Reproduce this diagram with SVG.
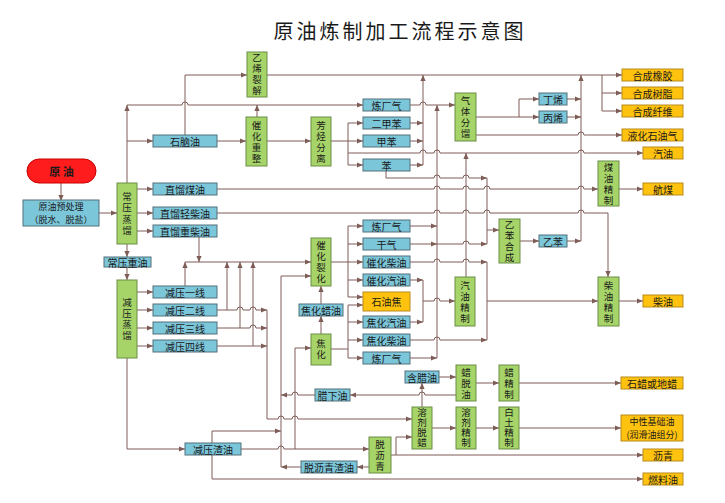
<svg xmlns="http://www.w3.org/2000/svg" width="725" height="503" viewBox="0 0 725 503">
<defs>
<marker id="a" viewBox="0 0 6 6" refX="6" refY="3" markerWidth="6" markerHeight="6" markerUnits="userSpaceOnUse" orient="auto"><path d="M0,0.4 L6,3 L0,5.6 z" fill="#7e5d57"/></marker>
<style>
.b{fill:#7cc6da;stroke:#52707a;stroke-width:1}
.g{fill:#a6d468;stroke:#6a8d47;stroke-width:1}
.o{fill:#ffc20e;stroke:#b98a1c;stroke-width:1}
.r{fill:#ff1c1c;stroke:#c80000;stroke-width:1}
text{font-family:"Noto Sans CJK SC","Noto Sans",sans-serif;font-size:10px;fill:#1a1a1a;text-anchor:middle;dominant-baseline:central}
text.s{font-size:9px}
text.v{writing-mode:vertical-rl;font-size:9.5px;letter-spacing:1.5px}
text.v2{writing-mode:vertical-rl;font-size:9.5px;letter-spacing:2px}
text.v0{writing-mode:vertical-rl;font-size:9.5px;letter-spacing:0.5px}
.c path{fill:none;stroke:#7e5d57;stroke-width:1}
.c path.e{marker-end:url(#a)}
</style>
</defs>
<rect width="725" height="503" fill="#ffffff"/>
<text x="400" y="30" style="font-size:20px;letter-spacing:3px">原油炼制加工流程示意图</text>

<g class="c">
<path class="e" d="M61,183 V201"/>
<path class="e" d="M99,213 H117"/>
<path class="e" d="M127,183 V105"/>
<path class="e" d="M127,105 H182 a3,3 0 0 1 6,0 H363"/>
<path class="e" d="M127,141 H153"/>
<path class="e" d="M185,135 V75 H247"/>
<path class="e" d="M217,141 H246"/>
<path class="e" d="M257,117 V105"/>
<path class="e" d="M267,75 H622"/>
<path class="e" d="M602,75 V111 H622"/>
<path class="e" d="M602,93 H622"/>
<path class="e" d="M267,141 H311"/>
<path class="e" d="M331,141 H363"/>
<path d="M348,123 V165"/>
<path class="e" d="M348,123 H363"/>
<path class="e" d="M348,165 H363"/>
<path class="e" d="M348,153 H420 a3,3 0 0 1 6,0 H434 a3,3 0 0 1 6,0 H578 a3,3 0 0 1 6,0 H643"/>
<path class="e" d="M410,123 H423"/>
<path class="e" d="M410,141 H423"/>
<path class="e" d="M410,165 H423"/>
<path class="e" d="M423,165 V75"/>
<path class="e" d="M410,105 H420 a3,3 0 0 1 6,0 H455"/>
<path class="e" d="M476,117 H539"/>
<path class="e" d="M519,117 V99 H539"/>
<path class="e" d="M567,99 H581"/>
<path class="e" d="M567,117 H581"/>
<path class="e" d="M581,241 V75"/>
<path class="e" d="M567,241 H581"/>
<path class="e" d="M520,241 H539"/>
<path class="e" d="M476,135 H578 a3,3 0 0 1 6,0 H622"/>
<path class="e" d="M386,171 V178 H434 a3,3 0 0 1 6,0 H463 a3,3 0 0 1 6,0 H487"/>
<path d="M487,178 V244"/>
<path class="e" d="M487,230 H499"/>
<path class="e" d="M217,189 H434 a3,3 0 0 1 6,0 H463 a3,3 0 0 1 6,0 H484 a3,3 0 0 1 6,0 H578 a3,3 0 0 1 6,0 H598"/>
<path class="e" d="M619,189 H643"/>
<path class="e" d="M217,213 H434 a3,3 0 0 1 6,0 H463 a3,3 0 0 1 6,0 H484 a3,3 0 0 1 6,0 H578 a3,3 0 0 1 6,0 H608 V277"/>
<path class="e" d="M619,301 H643"/>
<path class="e" d="M199,237 V262"/>
<path class="e" d="M185,262 H311"/>
<path class="e" d="M185,286 V262"/>
<path class="e" d="M217,310 H237 a3,3 0 0 1 6,0 H250 a3,3 0 0 1 6,0 H267"/>
<path class="e" d="M227,310 V262"/>
<path class="e" d="M217,328 H250 a3,3 0 0 1 6,0 H267"/>
<path class="e" d="M240,328 V262"/>
<path class="e" d="M217,346 H267"/>
<path class="e" d="M253,346 V262"/>
<path class="e" d="M267,310 V419 H278 a3,3 0 0 1 6,0 H292 a3,3 0 0 1 6,0 H412"/>
<path class="e" d="M137,292 H153"/>
<path class="e" d="M137,310 H153"/>
<path class="e" d="M137,328 H153"/>
<path class="e" d="M137,346 H153"/>
<path class="e" d="M137,189 H153"/>
<path class="e" d="M137,213 H153"/>
<path class="e" d="M137,231 H153"/>
<path class="e" d="M127,244 V257"/>
<path class="e" d="M127,267 V280"/>
<path class="e" d="M127,358 V449 H185"/>
<path class="e" d="M241,449 H278 a3,3 0 0 1 6,0 H369"/>
<path class="e" d="M212,443 V431 H281"/>
<path class="e" d="M212,455 V479 H643"/>
<path class="e" d="M281,467 V276 H311"/>
<path class="e" d="M295,449 V348 H311"/>
<path class="e" d="M321,334 V316"/>
<path class="e" d="M321,304 V286"/>
<path class="e" d="M331,262 H363"/>
<path d="M348,226 V297"/>
<path class="e" d="M348,226 H363"/>
<path class="e" d="M348,244 H363"/>
<path class="e" d="M348,280 H363"/>
<path class="e" d="M348,297 H363"/>
<path class="e" d="M331,349 H348 V358 H363"/>
<path d="M348,305 V349"/>
<path class="e" d="M348,305 H363"/>
<path class="e" d="M348,322 H363"/>
<path class="e" d="M348,340 H363"/>
<path class="e" d="M410,226 H437"/>
<path class="e" d="M410,244 H437"/>
<path class="e" d="M437,244 H463 a3,3 0 0 1 6,0 H487"/>
<path class="e" d="M410,262 H434 a3,3 0 0 1 6,0 H463 a3,3 0 0 1 6,0 H487"/>
<path d="M487,262 V340"/>
<path class="e" d="M487,301 H598"/>
<path class="e" d="M410,280 H423"/>
<path class="e" d="M410,322 H423"/>
<path d="M423,280 V322"/>
<path class="e" d="M423,301 H434 a3,3 0 0 1 6,0 H455"/>
<path class="e" d="M410,340 H434 a3,3 0 0 1 6,0 H487"/>
<path class="e" d="M410,358 H437"/>
<path class="e" d="M437,358 V105"/>
<path class="e" d="M466,277 V153"/>
<path class="e" d="M456,395 H425 a3,3 0 0 0 -6,0 H350"/>
<path class="e" d="M315,395 H298 a3,3 0 0 0 -6,0 H281"/>
<path class="e" d="M422,407 V383"/>
<path class="e" d="M439,377 H456"/>
<path class="e" d="M476,383 H499"/>
<path class="e" d="M519,383 H621"/>
<path class="e" d="M432,428 H456"/>
<path class="e" d="M476,428 H499"/>
<path class="e" d="M519,428 H621"/>
<path class="e" d="M391,455 H643"/>
<path class="e" d="M396,455 V437 H412"/>
<path class="e" d="M369,467 H357"/>
<path class="e" d="M301,467 H281"/>
</g>

<g id="n-yuanyou"><rect class="r" x="27" y="159" width="69" height="24" rx="12"/><text x="61.5" y="171" style="font-size:11px;font-weight:bold">原 油</text></g>
<g id="n-yuchuli"><rect class="b" x="23" y="200" width="76" height="26"/><text class="s" x="61" y="206.4">原油预处理</text><text class="s" x="61" y="219.6">（脱水、脱盐）</text></g>

<g id="n-changya"><rect class="g" x="117" y="183" width="20" height="61"/><text class="v2" x="127" y="214.5">常压蒸馏</text></g>
<g id="n-jianya"><rect class="g" x="117" y="280" width="20" height="78"/><text class="v" x="127" y="320">减压蒸馏</text></g>
<g id="n-yixi"><rect class="g" x="247" y="52" width="20" height="45"/><text class="v" x="257" y="75">乙烯裂解</text></g>
<g id="n-chonzheng"><rect class="g" x="246" y="117" width="21" height="49"/><text class="v" x="256.5" y="142.5">催化重整</text></g>
<g id="n-fangting"><rect class="g" x="311" y="117" width="20" height="49"/><text class="v" x="321" y="142.5">芳烃分离</text></g>
<g id="n-qiti"><rect class="g" x="455" y="93" width="21" height="48"/><text class="v" x="465.5" y="118">气体分馏</text></g>
<g id="n-yibenhc"><rect class="g" x="499" y="219" width="21" height="44"/><text class="v" x="509.5" y="242">乙苯合成</text></g>
<g id="n-meiyoujz"><rect class="g" x="598" y="161" width="21" height="45"/><text class="v" x="608.5" y="184.5">煤油精制</text></g>
<g id="n-chaiyoujz"><rect class="g" x="598" y="277" width="21" height="49"/><text class="v" x="608.5" y="302.5">柴油精制</text></g>
<g id="n-liehua"><rect class="g" x="311" y="238" width="20" height="48"/><text class="v" x="321" y="263">催化裂化</text></g>
<g id="n-jiaohua"><rect class="g" x="311" y="334" width="20" height="31"/><text class="v" x="321" y="350">焦化</text></g>
<g id="n-qiyoujz"><rect class="g" x="455" y="277" width="20" height="49"/><text class="v" x="465" y="302.5">汽油精制</text></g>
<g id="n-latuoyou"><rect class="g" x="456" y="365" width="20" height="36"/><text class="v" x="466" y="384">蜡脱油</text></g>
<g id="n-lajz"><rect class="g" x="499" y="365" width="20" height="36"/><text class="v" x="509" y="384">蜡精制</text></g>
<g id="n-rjtl"><rect class="g" x="412" y="407" width="20" height="42"/><text class="v0" x="422" y="428">溶剂脱蜡</text></g>
<g id="n-rjjz"><rect class="g" x="456" y="407" width="20" height="42"/><text class="v0" x="466" y="428">溶剂精制</text></g>
<g id="n-btjz"><rect class="g" x="499" y="407" width="20" height="42"/><text class="v0" x="509" y="428">白土精制</text></g>
<g id="n-tuoliqing"><rect class="g" x="369" y="437" width="22" height="36"/><text class="v" x="380" y="456">脱沥青</text></g>

<g id="n-naoyou"><rect class="b" x="153" y="135" width="64" height="12"/><text x="185" y="141">石脑油</text></g>
<g id="n-zlmy"><rect class="b" x="153" y="183" width="64" height="12"/><text x="185" y="189">直馏煤油</text></g>
<g id="n-zlqcy"><rect class="b" x="153" y="207" width="64" height="12"/><text x="185" y="213">直馏轻柴油</text></g>
<g id="n-zlzcy"><rect class="b" x="153" y="225" width="64" height="12"/><text x="185" y="231">直馏重柴油</text></g>
<g id="n-cyzy"><rect class="b" x="104" y="257" width="47" height="10"/><text x="127.5" y="262">常压重油</text></g>
<g id="n-jy1"><rect class="b" x="153" y="286" width="64" height="12"/><text x="185" y="292">减压一线</text></g>
<g id="n-jy2"><rect class="b" x="153" y="304" width="64" height="12"/><text x="185" y="310">减压二线</text></g>
<g id="n-jy3"><rect class="b" x="153" y="322" width="64" height="12"/><text x="185" y="328">减压三线</text></g>
<g id="n-jy4"><rect class="b" x="153" y="340" width="64" height="12"/><text x="185" y="346">减压四线</text></g>
<g id="n-lcq1"><rect class="b" x="363" y="99" width="47" height="12"/><text x="386.5" y="105">炼厂气</text></g>
<g id="n-erjiaben"><rect class="b" x="363" y="117" width="47" height="12"/><text x="386.5" y="123">二甲苯</text></g>
<g id="n-jiaben"><rect class="b" x="363" y="135" width="47" height="12"/><text x="386.5" y="141">甲苯</text></g>
<g id="n-ben"><rect class="b" x="363" y="159" width="47" height="12"/><text x="386.5" y="165">苯</text></g>
<g id="n-dingxi"><rect class="b" x="539" y="93" width="28" height="12"/><text x="553" y="99">丁烯</text></g>
<g id="n-bingxi"><rect class="b" x="539" y="111" width="28" height="12"/><text x="553" y="117">丙烯</text></g>
<g id="n-yiben"><rect class="b" x="539" y="235" width="28" height="12"/><text x="553" y="241">乙苯</text></g>
<g id="n-lcq2"><rect class="b" x="363" y="220" width="47" height="12"/><text x="386.5" y="226">炼厂气</text></g>
<g id="n-ganqi"><rect class="b" x="363" y="238" width="47" height="12"/><text x="386.5" y="244">干气</text></g>
<g id="n-chcy"><rect class="b" x="363" y="256" width="47" height="12"/><text x="386.5" y="262">催化柴油</text></g>
<g id="n-chqy"><rect class="b" x="363" y="274" width="47" height="12"/><text x="386.5" y="280">催化汽油</text></g>
<g id="n-jhqy"><rect class="b" x="363" y="316" width="47" height="12"/><text x="386.5" y="322">焦化汽油</text></g>
<g id="n-jhcy"><rect class="b" x="363" y="334" width="47" height="12"/><text x="386.5" y="340">焦化柴油</text></g>
<g id="n-lcq3"><rect class="b" x="363" y="352" width="47" height="12"/><text x="386.5" y="358">炼厂气</text></g>
<g id="n-jhly"><rect class="b" x="299" y="304" width="44" height="12"/><text x="321" y="310">焦化蜡油</text></g>
<g id="n-hly"><rect class="b" x="405" y="371" width="34" height="12"/><text x="422" y="377">含腊油</text></g>
<g id="n-lxy"><rect class="b" x="315" y="389" width="35" height="12"/><text x="332.5" y="395">腊下油</text></g>
<g id="n-jyzy"><rect class="b" x="185" y="443" width="56" height="12"/><text x="213" y="449">减压渣油</text></g>
<g id="n-tlqzy"><rect class="b" x="301" y="461" width="56" height="12"/><text x="329" y="467">脱沥青渣油</text></g>

<g id="n-shiyoujiao"><rect class="o" x="363" y="292" width="47" height="19"/><text x="386.5" y="301.5">石油焦</text></g>
<g id="n-hcxj"><rect class="o" x="622" y="69" width="61" height="12"/><text x="652.5" y="75">合成橡胶</text></g>
<g id="n-hcsz"><rect class="o" x="622" y="87" width="61" height="12"/><text x="652.5" y="93">合成树脂</text></g>
<g id="n-hcxw"><rect class="o" x="622" y="105" width="61" height="12"/><text x="652.5" y="111">合成纤维</text></g>
<g id="n-yhsyq"><rect class="o" x="622" y="129" width="61" height="12"/><text x="652.5" y="135">液化石油气</text></g>
<g id="n-qiyou"><rect class="o" x="643" y="147" width="40" height="12"/><text x="663" y="153">汽油</text></g>
<g id="n-hangmei"><rect class="o" x="643" y="183" width="40" height="12"/><text x="663" y="189">航煤</text></g>
<g id="n-chaiyou"><rect class="o" x="643" y="295" width="40" height="12"/><text x="663" y="301">柴油</text></g>
<g id="n-shila"><rect class="o" x="621" y="377" width="62" height="12"/><text x="652" y="383">石蜡或地蜡</text></g>
<g id="n-jcy"><rect class="o" x="621" y="415" width="62" height="26"/><text class="s" x="652" y="421.4">中性基础油</text><text class="s" x="652" y="434.6">(润滑油组分)</text></g>
<g id="n-liqing"><rect class="o" x="643" y="449" width="40" height="12"/><text x="663" y="455">沥青</text></g>
<g id="n-ranliaoyou"><rect class="o" x="643" y="473" width="40" height="12"/><text x="663" y="479">燃料油</text></g>
</svg>
